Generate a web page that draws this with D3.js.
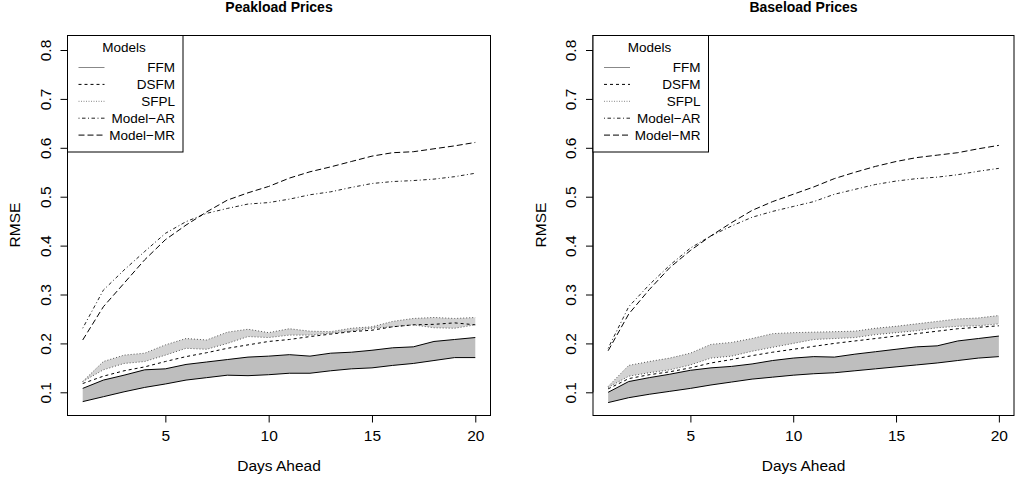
<!DOCTYPE html>
<html lang="en">
<head>
<meta charset="UTF-8">
<title>RMSE - Peakload / Baseload</title>
<style>
  body { margin: 0; background: #fff; }
  svg text { font-family: "Liberation Sans", Arial, Helvetica, sans-serif; fill: #000; }
</style>
</head>
<body>
<svg id="chart" width="1015" height="483"></svg>
<script src="https://d3js.org/d3.v7.min.js"></script>
<script>
// days ahead (x categories)
const days = [1, 2, 3, 4, 5, 6, 7, 8, 9, 10, 11, 12, 13, 14, 15, 16, 17, 18, 19, 20];
const xTicks = [5, 10, 15, 20];
const yTicks = [0.1, 0.2, 0.3, 0.4, 0.5, 0.6, 0.7, 0.8];
const legendLabels = ['FFM', 'DSFM', 'SFPL', 'Model\u2212AR', 'Model\u2212MR'];

// Peakload
const peakFfmHigh = [0.108, 0.125, 0.135, 0.146, 0.148, 0.157, 0.162, 0.167, 0.172, 0.174, 0.177, 0.174, 0.180, 0.182, 0.186, 0.191, 0.193, 0.204, 0.208, 0.212];
const peakFfmLow  = [0.081, 0.091, 0.101, 0.110, 0.117, 0.125, 0.130, 0.135, 0.134, 0.136, 0.139, 0.139, 0.144, 0.148, 0.150, 0.155, 0.159, 0.165, 0.171, 0.171];
const peakSfplHigh = [0.122, 0.163, 0.176, 0.180, 0.197, 0.210, 0.207, 0.223, 0.229, 0.222, 0.230, 0.225, 0.224, 0.231, 0.234, 0.245, 0.251, 0.253, 0.251, 0.253];
const peakSfplLow  = [0.122, 0.146, 0.159, 0.163, 0.176, 0.190, 0.188, 0.200, 0.214, 0.212, 0.217, 0.217, 0.221, 0.225, 0.231, 0.234, 0.238, 0.232, 0.231, 0.238];
const peakDsfm = [0.118, 0.133, 0.144, 0.152, 0.163, 0.173, 0.181, 0.190, 0.197, 0.204, 0.208, 0.214, 0.219, 0.224, 0.227, 0.234, 0.238, 0.239, 0.242, 0.238];
const peakAr = [0.231, 0.309, 0.350, 0.388, 0.425, 0.449, 0.466, 0.476, 0.485, 0.488, 0.495, 0.504, 0.510, 0.519, 0.527, 0.531, 0.533, 0.536, 0.541, 0.548];
const peakMr = [0.207, 0.275, 0.323, 0.371, 0.412, 0.442, 0.469, 0.493, 0.508, 0.521, 0.538, 0.551, 0.561, 0.572, 0.583, 0.590, 0.592, 0.598, 0.604, 0.611];

// Baseload
const baseFfmHigh = [0.100, 0.122, 0.130, 0.137, 0.145, 0.150, 0.153, 0.158, 0.165, 0.170, 0.173, 0.172, 0.178, 0.183, 0.188, 0.193, 0.195, 0.205, 0.210, 0.215];
const baseFfmLow  = [0.079, 0.089, 0.096, 0.102, 0.108, 0.115, 0.121, 0.127, 0.131, 0.135, 0.138, 0.140, 0.144, 0.148, 0.152, 0.156, 0.160, 0.165, 0.170, 0.173];
const baseSfplHigh = [0.112, 0.155, 0.163, 0.170, 0.180, 0.198, 0.202, 0.210, 0.220, 0.222, 0.223, 0.224, 0.225, 0.231, 0.235, 0.240, 0.245, 0.250, 0.252, 0.257];
const baseSfplLow  = [0.110, 0.133, 0.140, 0.146, 0.156, 0.170, 0.174, 0.184, 0.192, 0.200, 0.208, 0.210, 0.212, 0.218, 0.222, 0.226, 0.232, 0.235, 0.236, 0.240];
const baseDsfm = [0.107, 0.128, 0.136, 0.142, 0.150, 0.160, 0.167, 0.175, 0.182, 0.188, 0.194, 0.200, 0.205, 0.210, 0.215, 0.220, 0.225, 0.230, 0.233, 0.236];
const baseAr = [0.190, 0.275, 0.320, 0.360, 0.395, 0.420, 0.440, 0.458, 0.470, 0.480, 0.490, 0.505, 0.515, 0.525, 0.532, 0.537, 0.540, 0.545, 0.552, 0.558];
const baseMr = [0.185, 0.260, 0.310, 0.355, 0.390, 0.420, 0.447, 0.472, 0.490, 0.505, 0.520, 0.537, 0.550, 0.562, 0.572, 0.580, 0.585, 0.590, 0.598, 0.605];

const svg = d3.select('#chart');

// line styles (R lty: solid, dashed, dotted, dotdash, longdash)
const styles = {
  ffm:  { dash: null,        color: '#000' },
  dsfm: { dash: '3,3',       color: '#000' },
  sfpl: { dash: '1,2',       color: '#555' },
  ar:   { dash: '1,2.5,3.5,2.5', color: '#222' },
  mr:   { dash: '6,3',       color: '#000' }
};

function drawPanel(left, right, title, s) {
  const top = 35, bottom = 415;
  const x = d3.scaleLinear().domain([0.24, 20.76]).range([left, right]);
  const y = d3.scaleLinear().domain([0.0536, 0.8307]).range([bottom, top]);
  const g = svg.append('g');

  const line = arr => d3.line().x((d, i) => x(days[i])).y(d => y(d))(arr);
  const band = (lo, hi) => d3.area().x((d, i) => x(days[i])).y0((d, i) => y(lo[i])).y1(d => y(d))(hi);

  // bands
  g.append('path').attr('d', band(s.sfplLow, s.sfplHigh)).attr('fill', '#d3d3d3');
  g.append('path').attr('d', band(s.ffmLow, s.ffmHigh)).attr('fill', '#bebebe');

  const drawLine = (arr, st) => g.append('path')
    .attr('d', line(arr))
    .attr('fill', 'none')
    .attr('stroke', st.color)
    .attr('stroke-width', 1)
    .attr('stroke-dasharray', st.dash);

  drawLine(s.sfplHigh, styles.sfpl);
  drawLine(s.sfplLow, styles.sfpl);
  drawLine(s.ffmHigh, styles.ffm);
  drawLine(s.ffmLow, styles.ffm);
  drawLine(s.dsfm, styles.dsfm);
  drawLine(s.ar, styles.ar);
  drawLine(s.mr, styles.mr);

  // box
  g.append('rect')
    .attr('x', left + 0.5).attr('y', top + 0.5)
    .attr('width', right - left - 1).attr('height', bottom - top)
    .attr('fill', 'none').attr('stroke', '#000');

  // axes (R style: ticks outward)
  const xAxis = g.append('g')
    .attr('transform', `translate(0, ${bottom + 0.5})`)
    .call(d3.axisBottom(x).tickValues(xTicks).tickSize(7).tickPadding(7).tickFormat(d3.format('d')));
  const yAxis = g.append('g')
    .attr('transform', `translate(${left + 0.5}, 0)`)
    .call(d3.axisLeft(y).tickValues(yTicks).tickSize(7).tickFormat(d3.format('.1f')));

  xAxis.select('.domain').attr('d', `M${x(5)},0H${x(20)}`);
  yAxis.select('.domain').attr('d', `M0,${y(0.1)}V${y(0.8)}`);
  xAxis.selectAll('text').attr('font-size', 15.5).attr('font-family', null);
  yAxis.selectAll('text')
    .attr('font-size', 15.5).attr('font-family', null)
    .attr('x', null).attr('dy', '0.35em')
    .attr('text-anchor', 'middle')
    .attr('transform', 'translate(-22,0) rotate(-90)');

  // titles
  const cx = (left + right) / 2;
  g.append('text').attr('x', cx).attr('y', 12).attr('text-anchor', 'middle')
    .attr('font-size', 14).attr('font-weight', 'bold').text(title);
  g.append('text').attr('x', cx).attr('y', 471).attr('text-anchor', 'middle')
    .attr('font-size', 15.5).text('Days Ahead');
  g.append('text')
    .attr('transform', `translate(${left - 52}, ${(top + bottom) / 2}) rotate(-90)`)
    .attr('text-anchor', 'middle').attr('dy', '0.35em')
    .attr('font-size', 15.5).text('RMSE');

  // legend
  const lg = g.append('g').attr('transform', `translate(${left}, ${top})`);
  lg.append('rect').attr('x', 0.5).attr('y', 0.5).attr('width', 115.5).attr('height', 116.5)
    .attr('fill', '#fff').attr('stroke', '#000');
  lg.append('text').attr('x', 57).attr('y', 12.5).attr('dy', '0.35em').attr('text-anchor', 'middle')
    .attr('font-size', 13.5).text('Models');
  const legendStyles = [
    { dash: null, color: '#888' }, styles.dsfm, { dash: '1,1.5', color: '#888' }, styles.ar, styles.mr
  ];
  legendLabels.forEach((lab, i) => {
    const ly = 32.5 + i * 16.9;
    lg.append('line').attr('x1', 11.5).attr('x2', 37.5).attr('y1', ly).attr('y2', ly)
      .attr('stroke', legendStyles[i].color).attr('stroke-width', 1)
      .attr('stroke-dasharray', legendStyles[i].dash);
    lg.append('text').attr('x', 108).attr('y', ly).attr('dy', '0.35em')
      .attr('text-anchor', 'end').attr('font-size', 13.5).text(lab);
  });
}

drawPanel(67, 491, 'Peakload Prices', {
  ffmHigh: peakFfmHigh, ffmLow: peakFfmLow, sfplHigh: peakSfplHigh, sfplLow: peakSfplLow,
  dsfm: peakDsfm, ar: peakAr, mr: peakMr
});
drawPanel(592.5, 1014.5, 'Baseload Prices', {
  ffmHigh: baseFfmHigh, ffmLow: baseFfmLow, sfplHigh: baseSfplHigh, sfplLow: baseSfplLow,
  dsfm: baseDsfm, ar: baseAr, mr: baseMr
});
</script>
</body>
</html>
